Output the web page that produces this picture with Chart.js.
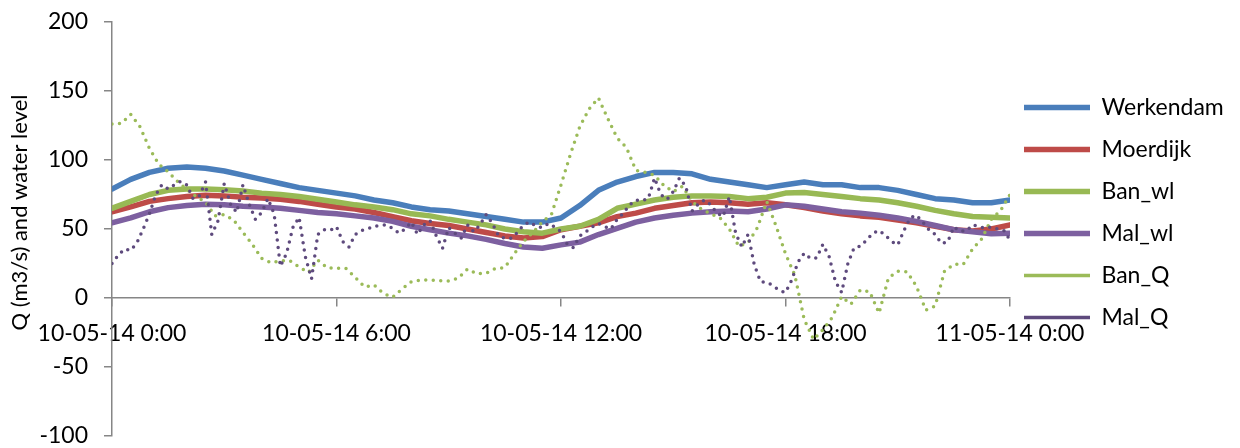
<!DOCTYPE html>
<html>
<head>
<meta charset="utf-8">
<script src="https://cdn.jsdelivr.net/npm/chart.js@4/dist/chart.umd.min.js"></script>
<style>
  html, body { margin: 0; padding: 0; background: #ffffff; }
  #wrap { width: 1240px; height: 448px; position: relative; }
</style>
</head>
<body>
<div id="wrap"><canvas id="chart"></canvas></div>
<script>
// Time axis: hours after 10-05-14 0:00, labelled every 6 hours
const xTickLabels = ['10-05-14 0:00', '10-05-14 6:00', '10-05-14 12:00', '10-05-14 18:00', '11-05-14 0:00'];
const yTicks = { min: -100, max: 200, step: 50 };

// Water levels, one value every 30 minutes
const werkendam = [79,86,91,94,95,94,92,89,86,83,80,78,76,74,71,69,66,64,63,61,59,57,55,55,58,67,78,84,88,91,91,90,86,84,82,80,82,84,82,82,80,80,78,75,72,71,69,69,71];
const moerdijk  = [62.5,66,70,72,73.5,74.5,74,73,72.5,71.5,70,68,66,64.5,62,59,56,54,52.5,50,47.5,45,43.5,44.5,49.5,52,54.5,59,61.5,65,67,69,69.5,69,68,69,67.5,65.5,63,61,59.5,58.5,56.5,54.5,52,49.5,48.5,50,53];
const banWl     = [65,70,75,78,79,79,78.5,77.5,76,75,73.5,71.5,69.5,67.5,66,64,61,59.5,57,55,53,50,48,47,50,52,57,65,68,71,73,74,74,73.5,72,73,76,76.5,75,73.5,72,71,69,66.5,63.5,61,59,58.5,58];
const malWl     = [54.5,58,62.5,65.5,67,68,67.5,66.5,66,65,63.5,62,61,59.5,58,55.5,52,49.5,47,45,42.5,39.5,37,36,38.5,40.5,46,50.5,55,58,60,61.5,62.5,63,62.5,64.5,67.5,66.5,64.5,62.5,61.5,60,58,55.5,52.5,49.5,48,46.5,47];

// Discharge at Ban, one value every 15 minutes
const banQ = [126,126.5,133,124,108.5,97,91.5,84.5,78.7,73.5,69.5,59.5,60.5,56.5,47.5,39,28.7,
  25.6,27,27,22.5,18.5,27.5,22,21.5,21.5,15,8,9.5,3.3,0.5,6.5,11.8,
  13,13,12.5,12.3,14.3,21,17.5,18,21.5,22,32,41,47.5,55,61,82,
  104,124,137,145,130,116,109,92.5,91,89,81.5,77,81,70,64.5,61,
  58,50,37.5,40,51,70,52,32,16.5,-15.5,-30,-23,-14,1,-4.5,5.8,
  4.6,-11,14.5,19.5,19,8.5,-8.7,-5.8,19.5,24.5,24.4,35.5,43,57,63.5,75];

// Discharge at Mal, one value every 10 minutes
const malQ = [25,31,35.5,34.5,40,50,61,74.6,82,79,
  82,84.5,82,72,74,84,46,56,83,68,
  62,82,68,57,62,72,61,23,32.4,51,
  58.5,30,14,46,49.5,49,51.7,40.8,37,46,
  49,50,52,52.5,53,50.5,47,50,55,46,
  53,56,45,36,51,47,43.5,53,48,53,
  60.5,54,45,43.3,43.3,47.5,53,55,52,51,
  54,51.5,48,39,36.5,45,48,51.5,54,51.7,
  50,57,61.5,67.5,71,70.5,72,87,75,71.5,
  77,87,81,63,68,71,67.5,61.5,59,73.4,
  47,37,46,24,11.8,11.5,9,5.5,4,13,
  26,32.5,28.7,29,39,30,12,4,25,36.5,
  37.5,42,47,49,45.5,41,38.5,49,58,60,
  55,49.5,46,39.5,40.5,51.5,48.5,48.5,53,51.7,
  50.5,51.5,50,49,42];

const seriesNames = ['Werkendam', 'Moerdijk', 'Ban_wl', 'Mal_wl', 'Ban_Q', 'Mal_Q'];
const yTitle = 'Q (m3/s) and water level';

// Pair each reading with its time in hours
function toPoints(values, stepMinutes) {
  return values.map((v, i) => ({ x: i * stepMinutes / 60, y: v }));
}

const FONT = 'Lato, "Open Sans", "Liberation Sans", sans-serif';
const AXIS = '#868686';

function solid(label, values, color, idx) {
  return {
    label, data: toPoints(values, 30), borderColor: color, backgroundColor: color,
    borderWidth: 5.5, borderCapStyle: 'round', borderJoinStyle: 'round',
    pointRadius: 0, tension: 0, order: 10 - idx
  };
}
function dotted(label, values, step, color, idx) {
  return {
    label, data: toPoints(values, step), borderColor: color, backgroundColor: color,
    borderWidth: 3.5, borderDash: [0, 7.5], borderCapStyle: 'round', borderJoinStyle: 'round',
    pointRadius: 0, tension: 0, order: 10 - idx
  };
}

// Fixed width for the legend column and its placement beside the plot
const legendPlacement = {
  id: 'legendPlacement',
  afterInit(chart, args, opts) {
    const lg = chart.legend;
    const fit = lg.fit.bind(lg);
    lg.fit = function () { fit(); this.width = opts.width; };
  },
  afterLayout(chart, args, opts) {
    const lg = chart.legend;
    lg.left += opts.shiftX;
    lg.right += opts.shiftX;
    lg.top = opts.top;
    lg.bottom = opts.bottom;
  }
};

// Rotated title to the left of the value axis
const axisTitle = {
  id: 'axisTitle',
  afterDraw(chart, args, opts) {
    const ctx = chart.ctx;
    ctx.save();
    ctx.translate(opts.x, opts.y);
    ctx.rotate(-Math.PI / 2);
    ctx.font = opts.font;
    ctx.fillStyle = opts.color;
    ctx.textAlign = 'center';
    ctx.textBaseline = 'middle';
    ctx.fillText(opts.text, 0, 0);
    ctx.restore();
  }
};

new Chart(document.getElementById('chart'), {
  type: 'line',
  data: {
    datasets: [
      solid(seriesNames[0], werkendam, '#4A7EBB', 0),
      solid(seriesNames[1], moerdijk, '#BE4B48', 1),
      solid(seriesNames[2], banWl, '#98B954', 2),
      solid(seriesNames[3], malWl, '#7D60A0', 3),
      dotted(seriesNames[4], banQ, 15, '#9BBB59', 4),
      dotted(seriesNames[5], malQ, 10, '#5E4A7D', 5)
    ]
  },
  options: {
    responsive: true,
    maintainAspectRatio: false,
    animation: false,
    events: [],
    layout: { padding: { top: 22, bottom: 12, left: 0, right: 0 } },
    scales: {
      x: {
        type: 'linear',
        position: { y: 0 },
        min: 0, max: 24,
        offset: false,
        ticks: {
          stepSize: 6,
          maxRotation: 0,
          autoSkip: false,
          padding: 14,
          color: '#000000',
          font: { family: FONT, size: 23 },
          callback: (v) => xTickLabels[Math.round(v / 6)]
        },
        grid: { drawOnChartArea: false, drawTicks: true, tickLength: 8, color: AXIS, lineWidth: 1.5 },
        border: { display: true, color: AXIS, width: 1.5 }
      },
      y: {
        type: 'linear',
        position: 'left',
        min: yTicks.min, max: yTicks.max,
        ticks: {
          stepSize: yTicks.step,
          padding: 16,
          color: '#000000',
          font: { family: FONT, size: 23, lineHeight: 1.0 }
        },
        grid: { drawOnChartArea: false, drawTicks: true, tickLength: 8, color: AXIS, lineWidth: 1.5 },
        border: { display: true, color: AXIS, width: 1.5 },
        afterFit: (scale) => {
          scale.width = 112;
          scale.paddingTop = 11;
          scale.paddingBottom = 11;
        }
      }
    },
    plugins: {
      tooltip: { enabled: false },
      legend: {
        position: 'right',
        align: 'center',
        labels: {
          usePointStyle: true,
          pointStyle: 'line',
          pointStyleWidth: 66,
          padding: 19,
          color: '#000000',
          font: { family: FONT, size: 23 },
          sort: (a, b) => a.datasetIndex - b.datasetIndex,
          generateLabels: (chart) => {
            const items = Chart.defaults.plugins.legend.labels.generateLabels(chart);
            items.forEach((it) => {
              if (it.lineDash && it.lineDash.length) it.lineDash = [0, 9];
            });
            return items;
          }
        }
      },
      legendPlacement: { width: 230, shiftX: -5, top: 0, bottom: 425 },
      axisTitle: { text: yTitle, x: 20, y: 212.5, font: '22px ' + FONT, color: '#000000' }
    }
  },
  plugins: [legendPlacement, axisTitle]
});
</script>
</body>
</html>
